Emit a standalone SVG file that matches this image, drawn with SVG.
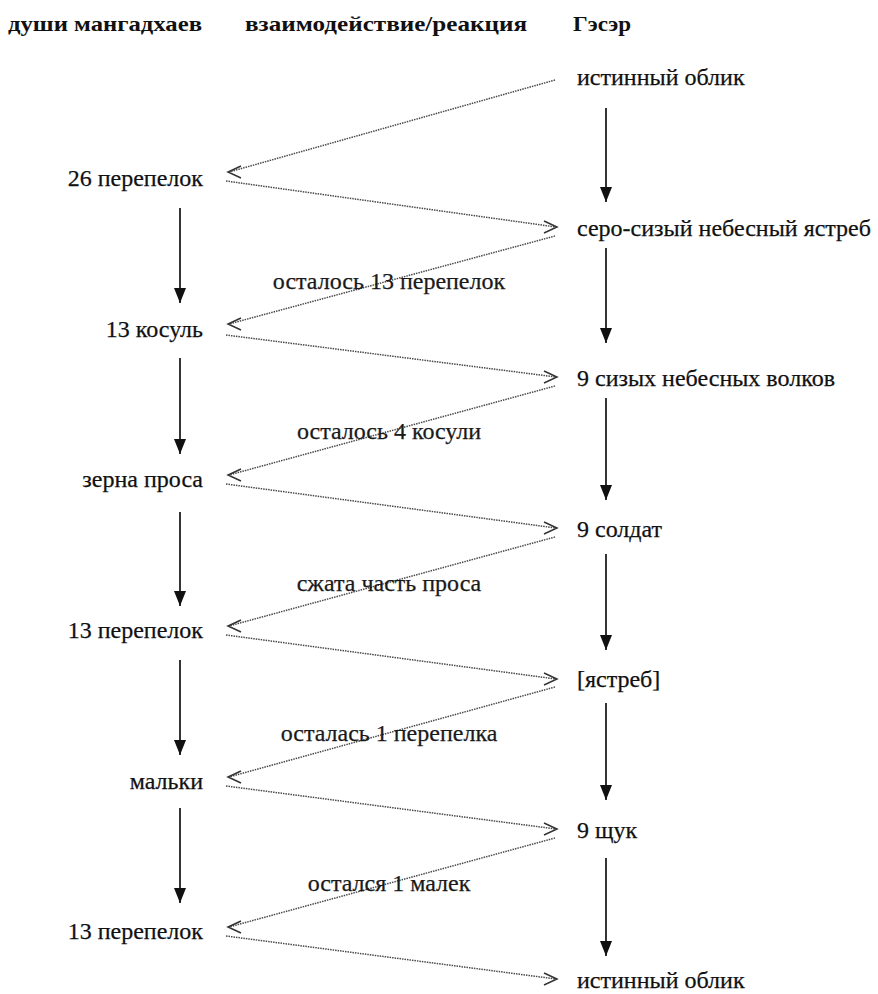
<svg xmlns="http://www.w3.org/2000/svg" xmlns:xlink="http://www.w3.org/1999/xlink" width="878" height="994" viewBox="0 0 878 994">
<style>
  text { font-family: "Liberation Serif", "Tinos", "Times New Roman", "DejaVu Serif", serif; }
  .hdr { font-weight: bold; font-size: 22px; fill: #111; }
  .node { font-size: 24px; fill: #111; stroke: #111; stroke-width: 0.25; }
  .lbl { font-size: 24px; fill: #1a1a1a; stroke: #1a1a1a; stroke-width: 0.25; text-anchor: middle; }
  .left { text-anchor: end; }
  .solid { stroke: #111; stroke-width: 1.7; fill: none; marker-end: url(#tri); }
  .dot { stroke: #4a4a4a; stroke-width: 1.5; stroke-dasharray: 1.5 1; fill: none; }
  .chev { stroke: #333; stroke-width: 1.5; fill: none; }
</style>
<defs>
  <marker id="tri" markerWidth="12" markerHeight="16" refX="6" refY="15" orient="0" markerUnits="userSpaceOnUse">
    <path d="M0,0 L12,0 L6,15 Z" fill="#111"/>
  </marker>
  <path id="chevL" class="chev" d="M13,-6 L0,0 L13,6"/>
  <path id="chevR" class="chev" d="M-13,-6 L0,0 L-13,6"/>
</defs>
<rect width="878" height="994" fill="#ffffff"/>

<g id="headers">
  <text class="hdr" x="8" y="31" textLength="194" lengthAdjust="spacingAndGlyphs">души мангадхаев</text>
  <text class="hdr" x="245" y="31" textLength="282" lengthAdjust="spacingAndGlyphs">взаимодействие/реакция</text>
  <text class="hdr" x="573" y="31" textLength="58" lengthAdjust="spacingAndGlyphs">Гэсэр</text>
</g>

<g id="R0"><text class="node" x="577" y="85">истинный облик</text></g>
<g id="R1"><text class="node" x="577" y="236">серо-сизый небесный ястреб</text></g>
<g id="R2"><text class="node" x="577" y="386">9 сизых небесных волков</text></g>
<g id="R3"><text class="node" x="577" y="537">9 солдат</text></g>
<g id="R4"><text class="node" x="577" y="687">[ястреб]</text></g>
<g id="R5"><text class="node" x="577" y="838">9 щук</text></g>
<g id="R6"><text class="node" x="577" y="988">истинный облик</text></g>

<g id="L0"><text class="node left" x="203" y="186">26 перепелок</text></g>
<g id="L1"><text class="node left" x="203" y="337">13 косуль</text></g>
<g id="L2"><text class="node left" x="203" y="487">зерна проса</text></g>
<g id="L3"><text class="node left" x="203" y="638">13 перепелок</text></g>
<g id="L4"><text class="node left" x="203" y="789">мальки</text></g>
<g id="L5"><text class="node left" x="203" y="939">13 перепелок</text></g>

<g id="connectors">
  <line class="solid" x1="606" y1="108" x2="606" y2="202"/>
  <line class="solid" x1="606" y1="248" x2="606" y2="343"/>
  <line class="solid" x1="606" y1="398" x2="606" y2="500"/>
  <line class="solid" x1="606" y1="554" x2="606" y2="650"/>
  <line class="solid" x1="606" y1="703" x2="606" y2="800"/>
  <line class="solid" x1="606" y1="858" x2="606" y2="956"/>
  <line class="solid" x1="180" y1="208" x2="180" y2="303"/>
  <line class="solid" x1="180" y1="358" x2="180" y2="454"/>
  <line class="solid" x1="180" y1="512" x2="180" y2="606"/>
  <line class="solid" x1="180" y1="660" x2="180" y2="755"/>
  <line class="solid" x1="180" y1="808" x2="180" y2="903"/>

  <line class="dot" x1="555" y1="80" x2="229" y2="172"/>
  <use xlink:href="#chevL" x="228" y="172"/>
  <line class="dot" x1="555" y1="236" x2="229" y2="324"/>
  <use xlink:href="#chevL" x="228" y="324"/>
  <line class="dot" x1="555" y1="386" x2="229" y2="475"/>
  <use xlink:href="#chevL" x="228" y="475"/>
  <line class="dot" x1="555" y1="537" x2="229" y2="626"/>
  <use xlink:href="#chevL" x="228" y="626"/>
  <line class="dot" x1="555" y1="687" x2="229" y2="777"/>
  <use xlink:href="#chevL" x="228" y="777"/>
  <line class="dot" x1="555" y1="838" x2="229" y2="927"/>
  <use xlink:href="#chevL" x="228" y="927"/>

  <line class="dot" x1="226" y1="181" x2="556" y2="227"/>
  <use xlink:href="#chevR" x="557" y="227"/>
  <line class="dot" x1="226" y1="335" x2="556" y2="377"/>
  <use xlink:href="#chevR" x="557" y="377"/>
  <line class="dot" x1="226" y1="484" x2="556" y2="528"/>
  <use xlink:href="#chevR" x="557" y="528"/>
  <line class="dot" x1="226" y1="635" x2="556" y2="679"/>
  <use xlink:href="#chevR" x="557" y="679"/>
  <line class="dot" x1="226" y1="786" x2="556" y2="829"/>
  <use xlink:href="#chevR" x="557" y="829"/>
  <line class="dot" x1="226" y1="936" x2="556" y2="979"/>
  <use xlink:href="#chevR" x="557" y="979"/>
</g>

<g id="labels">
  <text class="lbl" x="389" y="289">осталось 13 перепелок</text>
  <text class="lbl" x="389" y="439">осталось 4 косули</text>
  <text class="lbl" x="389" y="591">сжата часть проса</text>
  <text class="lbl" x="389" y="741">осталась 1 перепелка</text>
  <text class="lbl" x="389" y="891">остался 1 малек</text>
</g>
</svg>
